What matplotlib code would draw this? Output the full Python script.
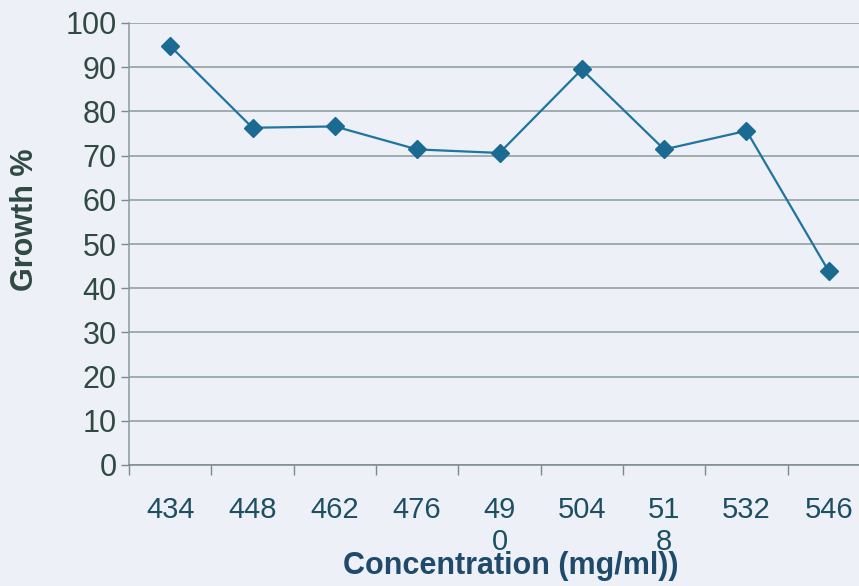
import matplotlib
matplotlib.use("Agg")
import matplotlib.pyplot as plt
import numpy as np

categories = ["434", "448", "462", "476", "49\n0", "504", "51\n8", "532", "546"]
growth = [94.8, 76.3, 76.6, 71.4, 70.6, 89.5, 71.4, 75.6, 43.8]
yticks = [0, 10, 20, 30, 40, 50, 60, 70, 80, 90, 100]

plt.rcParams['font.family'] = ['Liberation Sans', 'DejaVu Sans']

bg = "#eef0f8"
fig = plt.figure(figsize=(8.59, 5.86), dpi=100, facecolor=bg)
ax = fig.add_axes([129/859, 1-465/586, (870-129)/859, (465-23)/586])
ax.set_facecolor(bg)

x = np.arange(len(categories))
ax.plot(x, growth, color="#2074a0", lw=1.6, marker="D", markersize=9.5,
        markerfacecolor="#1a6a92", markeredgecolor="#1a6a92", zorder=3, clip_on=False)

ax.set_ylim(0, 100)
ax.set_xlim(-0.5, len(categories) - 0.5)
ax.set_yticks(yticks)
ax.set_yticklabels([str(v) for v in yticks], fontsize=22, color="#2f4a42")
ax.yaxis.grid(True, color="#8a9a9c", lw=1.1)
ax.set_axisbelow(True)

ax.set_xticks(x)
ax.set_xticklabels(categories, fontsize=21, color="#1d4f63", linespacing=1.22)
ax.set_xticks(np.arange(-0.5, len(categories) + 0.5, 1), minor=True)
ax.tick_params(axis='x', which='major', length=0, pad=22)
ax.tick_params(axis='x', which='minor', length=7, color="#7a8a8c", width=1)
ax.tick_params(axis='y', length=6, color="#7a8a8c", width=1, pad=3)

for s in ['top', 'right']:
    ax.spines[s].set_visible(False)
ax.spines['left'].set_color("#8a9a9c")
ax.spines['bottom'].set_color("#7a8a8c")
ax.spines['left'].set_linewidth(1.1)
ax.spines['bottom'].set_linewidth(1.1)

fig.text(511/859, 1-566/586, "Concentration (mg/ml))", ha='center', va='center',
         fontsize=22, fontweight='bold', color="#1f4a6a")
fig.text(25/859, 1-220/586, "Growth %", ha='center', va='center', rotation=90,
         fontsize=22, fontweight='bold', color="#2f4a42")

fig.savefig("out.png", dpi=100, facecolor=bg)
